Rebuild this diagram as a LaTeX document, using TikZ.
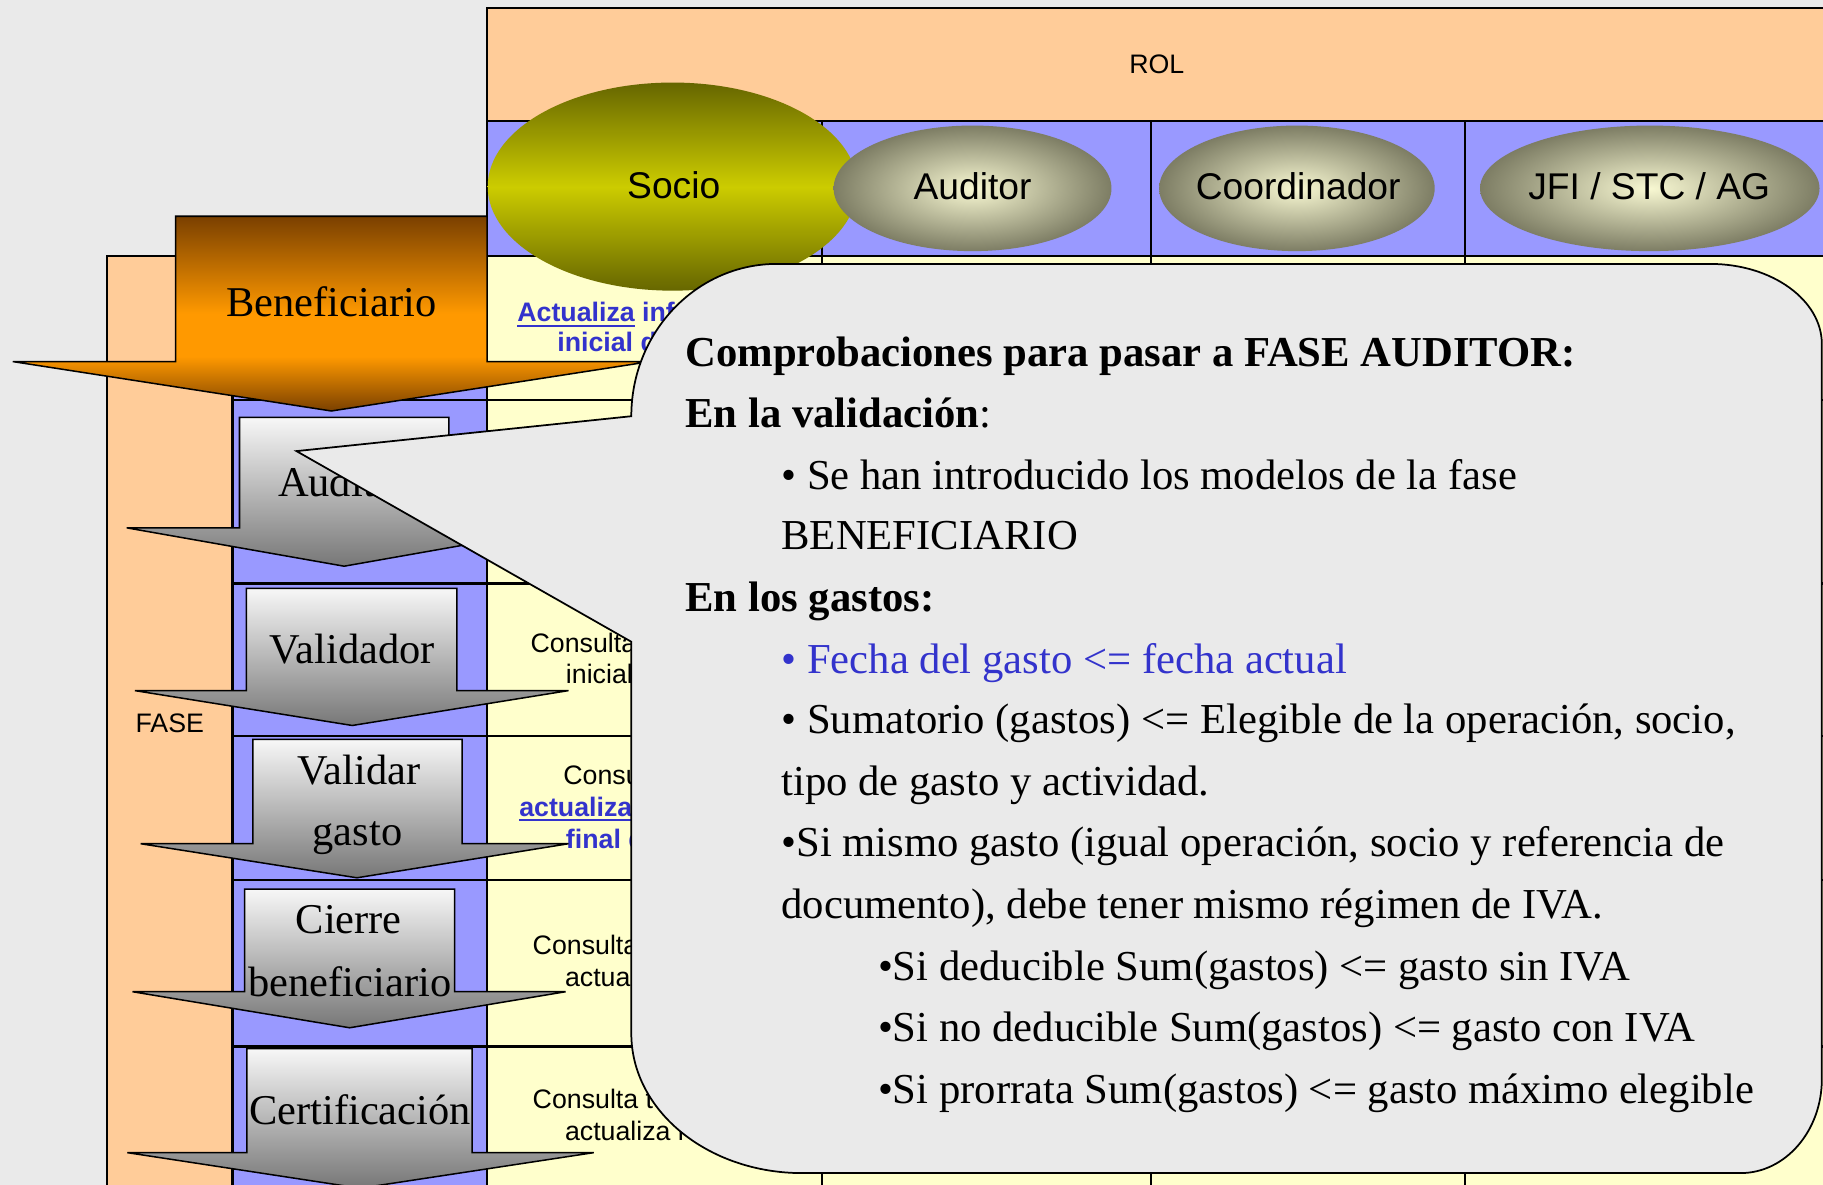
\documentclass[tikz,border=0pt]{standalone}
\usepackage{fontspec}
\setmainfont{Liberation Serif}
\newfontfamily\arialf{Liberation Sans}
\usetikzlibrary{shapes.geometric}

\definecolor{bgc}{HTML}{EAEAEA}
\definecolor{peach}{HTML}{FFCC99}
\definecolor{lav}{HTML}{9999FF}
\definecolor{cream}{HTML}{FFFFCC}
\definecolor{linkblue}{HTML}{3333CC}
\definecolor{obrown}{HTML}{7A4000}
\definecolor{oorange}{HTML}{FF9900}
\definecolor{olived}{HTML}{666600}
\definecolor{olivel}{HTML}{CCCC00}
\definecolor{ellin}{HTML}{F8F8D2}
\definecolor{ellout}{HTML}{7D7D64}
\definecolor{gtop}{HTML}{F7F7F7}
\definecolor{gbot}{HTML}{777777}

\pgfdeclareverticalshading{orangearrow}{100bp}{color(0bp)=(obrown); color(25bp)=(obrown); color(39bp)=(oorange); color(50bp)=(oorange); color(75bp)=(obrown); color(100bp)=(obrown)}

\tikzset{
  tline/.style={line width=2pt, draw=black},
  arrowline/.style={draw=black, line width=1.3pt, line join=miter},
  grayarrow/.style={arrowline, top color=gtop, bottom color=gbot},
  tbl/.style={font=\arialf\fontsize{23}{27}\selectfont, anchor=base west, inner sep=0pt, outer sep=0pt},
  tblb/.style={tbl, font=\arialf\bfseries\fontsize{23}{27}\selectfont, text=linkblue},
  ulink/.style={draw=linkblue, line width=1.7pt},
  elltxt/.style={font=\arialf\fontsize{32}{36}\selectfont, anchor=base, inner sep=0pt},
  arrtxt/.style={font=\fontsize{36.5}{40}\selectfont, anchor=base, inner sep=0pt},
  co/.style={font=\fontsize{36.7}{53}\selectfont, anchor=base west, inner sep=0pt},
}

\begin{document}
\begin{tikzpicture}[x=1pt,y=-1pt]
\useasboundingbox (0,0) rectangle (1568,1019);
\clip (0,0) rectangle (1568,1019);
\fill[bgc] (0,0) rectangle (1568,1019);

% table fills
\fill[peach] (419,7) rectangle (1600,104);
\fill[lav] (419,104) rectangle (1600,220);
\fill[peach] (92,220) rectangle (200,1040);
\fill[lav] (200,220) rectangle (419,1040);
\fill[cream] (419,220) rectangle (1600,1040);

% table lines
\draw[tline] (1600,7) -- (419,7) -- (419,1040);
\draw[tline] (419,104) -- (1600,104);
\draw[tline] (92,1040) -- (92,220) -- (1600,220);
\draw[tline] (200,220) -- (200,1040);
\foreach \x in {707,990,1260} \draw[tline] (\x,104) -- (\x,1040);
\foreach \y in {344,502,633,757,900} \draw[tline] (200,\y) -- (1600,\y);

% header texts
\node[tbl, anchor=base] (rol) at (995,63.6) {ROL};
\node[tbl, anchor=base] (fase) at (146,630) {FASE};

% cell texts (Socio column)
\node[tblb] (r1a) at (445,276.7) {Actualiza};
\node[tblb] (r1b) at ([xshift=6.4pt]r1a.base east) {información};
\draw[ulink] ([yshift=-3.5pt]r1a.base west) -- ([yshift=-3.5pt]r1a.base east);
\node[tblb] (r1c) at (479.4,302.5) {inicial del gasto};

\node[tbl] (r3a) at (456.4,561.4) {Consulta información};
\node[tbl] (r3b) at (486.8,587.8) {inicial del gasto};

\node[tbl] (r4a) at (484.6,674.6) {Consulta inicial y};
\node[tblb] (r4b) at (446.7,701.9) {actualiza};
\node[tblb] (r4c) at ([xshift=6.4pt]r4b.base east) {información};
\draw[ulink] ([yshift=-3.5pt]r4b.base west) -- ([yshift=-3.5pt]r4b.base east);
\node[tblb] (r4d) at (486.8,729.7) {final del gasto};

\node[tbl] (r5a) at (458.2,821.4) {Consulta información};
\node[tbl] (r5b) at (486,848.1) {actualiza estado};

\node[tbl] (r6a) at (458.2,953.3) {Consulta todo el gasto};
\node[tbl] (r6b) at (486,980.6) {actualiza resto};

% role ellipses
\path[shade, top color=olived, bottom color=olived, middle color=olivel] (578.5,160.5) ellipse [x radius=159, y radius=89.5];
\path[shade, inner color=ellin, outer color=ellout] (836.5,162) ellipse [x radius=119.5, y radius=54];
\path[shade, inner color=ellin, outer color=ellout] (1115.5,162) ellipse [x radius=118.5, y radius=54];
\path[shade, inner color=ellin, outer color=ellout] (1419,162) ellipse [x radius=146, y radius=54];
\node[elltxt] (socio) at (579.5,170.6) {Socio};
\node[elltxt] (auditor) at (836.5,172) {Auditor};
\node[elltxt] (coord) at (1116.6,172) {Coordinador};
\node[elltxt] (jfi) at (1418.5,172) {JFI / STC / AG};

% Beneficiario arrow
\path[arrowline, shade, shading=orangearrow] (151,186) -- (419,186) -- (419,311) -- (559,311) -- (285,353.5) -- (11,311) -- (151,311) -- cycle;
\node[arrtxt] (benef) at (285,272.4) {Beneficiario};

% gray phase arrows
\path[grayarrow] (206,359) -- (386,359) -- (386,454) -- (483,454) -- (296,487) -- (109,454) -- (206,454) -- cycle;
\node[arrtxt] (aud) at (296,427.2) {Auditor};

\path[grayarrow] (212,506) -- (393,506) -- (393,594) -- (489,594) -- (303,624) -- (116,594) -- (212,594) -- cycle;
\node[arrtxt] (val) at (303,570.3) {Validador};

\path[grayarrow] (217.4,636) -- (397.5,636) -- (397.5,725.7) -- (489,725.7) -- (307,755) -- (121,725.7) -- (217.4,725.7) -- cycle;
\node[arrtxt] (vg1) at (308.7,674.9) {Validar};
\node[arrtxt] (vg2) at (307.5,727) {gasto};

\path[grayarrow] (210.4,764.7) -- (391,764.7) -- (391,853) -- (486.5,853) -- (300.7,884) -- (114,853) -- (210.4,853) -- cycle;
\node[arrtxt] (ci1) at (300,802.6) {Cierre};
\node[arrtxt] (ci2) at (301,856.8) {beneficiario};

\path[grayarrow] (212.4,902) -- (406,902) -- (406,991.4) -- (510.7,991.4) -- (309.7,1022) -- (109.5,991.4) -- (212.4,991.4) -- cycle;
\node[arrtxt] (cert) at (309.7,966.8) {Certificación};

% callout
\path[draw=black, line width=1.5pt, fill=bgc, line join=miter]
  (255,388) -- (543,358)
  .. controls (543,285.6) and (599,227) .. (668,227)
  -- (1471,227)
  .. controls (1524,227) and (1567,258) .. (1567,296)
  -- (1567,928)
  .. controls (1567,972.7) and (1535.7,1009) .. (1497,1009)
  -- (690,1009)
  .. controls (608.8,1009) and (543,955.3) .. (543,889)
  -- (543,552) -- cycle;

\node[co] (c1) at (589.4,315) {\bfseries Comprobaciones para pasar a FASE AUDITOR:};
\node[co] (c2) at (589.4,368) {\textbf{En la validación}:};
\node[co] (c3) at (672,421) {• Se han introducido los modelos de la fase};
\node[co] (c4) at (672,473) {BENEFICIARIO};
\node[co] (c5) at (589.4,526) {\bfseries En los gastos:};
\node[co, text=linkblue] (c6) at (672,579) {• Fecha del gasto <= fecha actual};
\node[co] (c7) at (672,631) {• Sumatorio (gastos) <= Elegible de la operación, socio,};
\node[co] (c8) at (672,684) {tipo de gasto y actividad.};
\node[co] (c9) at (672,737) {•Si mismo gasto (igual operación, socio y referencia de};
\node[co] (c10) at (672,790) {documento), debe tener mismo régimen de IVA.};
\node[co] (c11) at (755,843) {•Si deducible Sum(gastos) <= gasto sin IVA};
\node[co] (c12) at (755,896) {•Si no deducible Sum(gastos) <= gasto con IVA};
\node[co] (c13) at (755,949) {•Si prorrata Sum(gastos) <= gasto máximo elegible};
\end{tikzpicture}
\end{document}
